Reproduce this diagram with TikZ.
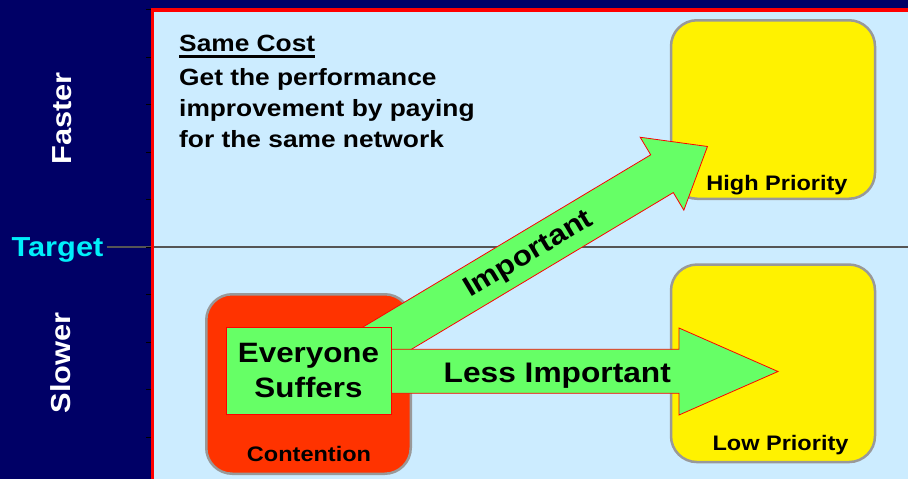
\documentclass[tikz,border=0pt]{standalone}
\usepackage{fontspec}
\setmainfont{Liberation Sans}[FakeStretch=1.12]
\definecolor{navy}{RGB}{0,0,102}
\definecolor{panelblue}{RGB}{204,236,255}
\definecolor{targetcyan}{RGB}{0,240,250}
\definecolor{boxgray}{RGB}{153,153,153}
\definecolor{contred}{RGB}{255,51,0}
\definecolor{arrowgreen}{RGB}{102,255,102}
\definecolor{linegray}{RGB}{85,85,85}
\begin{document}
\begin{tikzpicture}[x=1pt,y=-1pt,
  txt/.style={inner sep=0pt,font=\bfseries\fontsize{#1}{#1}\selectfont},
  prio/.style={draw=boxgray,line width=2.5pt,fill=yellow,rounded corners=26pt,
    minimum width=204pt,inner sep=0pt},
  blockarrow/.style={fill=arrowgreen,draw=red,line width=0.8pt,line join=miter}]
\useasboundingbox (0,0) rectangle (908,479);
\clip (0,0) rectangle (908,479);

% backdrop and plotting panel
\fill[navy] (0,0) rectangle (908,479);
\fill[panelblue] (152.5,10) rectangle (920,490);

% axis labels
\node[txt=27.5,text=targetcyan,anchor=base] (tgt) at (57.5,256.7) {Target};
\node[txt=27.5,text=white,anchor=base,rotate=90] (fast) at (71.5,118.5) {Faster};
\node[txt=27.5,text=white,anchor=base,rotate=90] (slow) at (70.5,363) {Slower};

% target level
\coordinate (tgtend) at (920,247);
\draw[linegray,line width=2.6pt] ([xshift=3pt]tgt.east |- tgtend) -- (tgtend);

% panel frame and axis ticks
\draw[red,line width=3.5pt] (152.5,490) |- (920,10);
\foreach \k in {0,...,9}
  \draw[black,line width=1pt] (146,{9.5+47.5*\k}) -- (151,{9.5+47.5*\k});

% note in the upper half
\node[txt=23.5,anchor=base west] (sc) at (179,51.7) {Same Cost};
\draw[black,line width=2.4pt] ([yshift=-4.8pt]sc.base west) -- ([yshift=-4.8pt]sc.base east);
\node[txt=23.5,anchor=base west] (n1) at (179,85) {Get the performance};
\node[txt=23.5,anchor=base west] (n2) at (179,116) {improvement by paying};
\node[txt=23.5,anchor=base west] (n3) at (179,147) {for the same network};

% outcome boxes
\node[prio,minimum height=178.5pt] (hp) at (773,109.5) {};
\node[txt=21,anchor=base] (hptxt) at (777,190) {High Priority};
\node[prio,minimum height=197.5pt] (lp) at (773,363.3) {};
\node[txt=21,anchor=base] (lptxt) at (780.5,450) {Low Priority};
\node[prio,fill=contred,minimum width=204.5pt,minimum height=179.5pt] (ct) at (308.5,384) {};
\node[txt=21,anchor=base] (cttxt) at (309,461.7) {Contention};

% diagonal block arrow towards high priority
\begin{scope}[shift={(662,173.7)},rotate=30.9]
  \draw[blockarrow] (-410,-22) -- (0,-22) -- (0,-42.5) -- (53,0)
    -- (0,42.5) -- (0,22) -- (-410,22) -- cycle;
\end{scope}

% horizontal block arrow towards low priority
\draw[blockarrow] (330,349.3) -- (679,349.3) -- (679,328) -- (778,371.5)
  -- (679,415) -- (679,393.3) -- (330,393.3) -- cycle;

% starting state
\node[draw=red,line width=0.8pt,fill=arrowgreen,minimum width=165pt,minimum height=87pt,
  inner sep=0pt,align=center,font=\bfseries\fontsize{28}{35}\selectfont] (es) at (308.5,370.5)
  {Everyone\\Suffers};

% arrow captions
\node[txt=28,rotate=30.9] (imp) at (529,255) {Important};
\node[txt=28.3,anchor=base] (limp) at (557.3,382.7) {Less Important};
\end{tikzpicture}
\end{document}
